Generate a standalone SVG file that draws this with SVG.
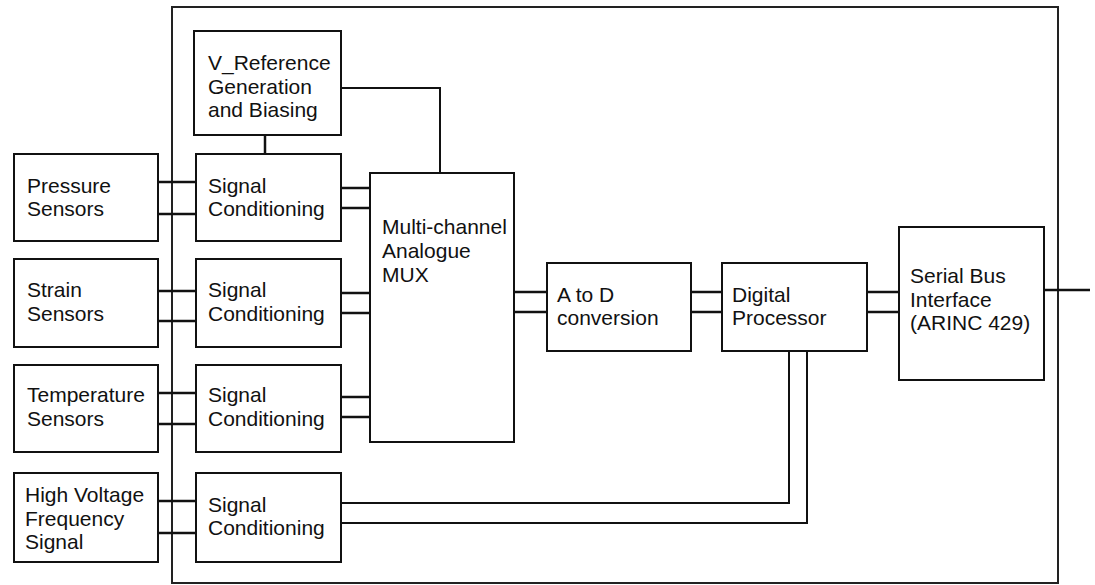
<svg xmlns="http://www.w3.org/2000/svg" width="1095" height="585" viewBox="0 0 1095 585">
<style>
.box{fill:#fff;stroke:#111;stroke-width:2}
.frame{fill:none;stroke:#222;stroke-width:2}
.ln{fill:none;stroke:#111;stroke-width:2.5}
.thin{fill:none;stroke:#111;stroke-width:2}
text{font-family:"Liberation Sans",Arial,sans-serif;font-size:21px;fill:#111}
</style>
<rect width="1095" height="585" fill="#fff"/>
<g id="frame"><rect class="frame" x="172" y="7" width="886" height="576"/></g>
<g id="connectors">
<path class="ln" d="M158 182H196M158 214H196"/>
<path class="ln" d="M158 291H196M158 321H196"/>
<path class="ln" d="M158 393H196M158 424H196"/>
<path class="ln" d="M158 501H196M158 533H196"/>
<path class="ln" d="M265 135V154"/>
<path class="thin" d="M341 88H440V173"/>
<path class="ln" d="M341 188H370M341 208H370"/>
<path class="ln" d="M341 293H370M341 313H370"/>
<path class="ln" d="M341 397H370M341 417H370"/>
<path class="ln" d="M514 292H547M514 312H547"/>
<path class="ln" d="M691 292H722M691 312H722"/>
<path class="ln" d="M867 292H899M867 312H899"/>
<path class="ln" d="M1044 290H1090"/>
<path class="thin" d="M341 503H789V351M341 523H807V351"/>
</g>
<g id="vref"><rect class="box" x="194" y="31" width="147" height="104"/>
<text x="208" y="70">V_Reference</text><text x="208" y="93.5">Generation</text><text x="208" y="117">and Biasing</text></g>
<g id="pressure"><rect class="box" x="14" y="154" width="144" height="87"/>
<text x="27" y="193">Pressure</text><text x="27" y="216">Sensors</text></g>
<g id="sc1"><rect class="box" x="196" y="154" width="145" height="87"/>
<text x="208" y="193">Signal</text><text x="208" y="216">Conditioning</text></g>
<g id="strain"><rect class="box" x="14" y="259" width="144" height="88"/>
<text x="27" y="297">Strain</text><text x="27" y="321">Sensors</text></g>
<g id="sc2"><rect class="box" x="196" y="259" width="145" height="88"/>
<text x="208" y="297">Signal</text><text x="208" y="321">Conditioning</text></g>
<g id="temp"><rect class="box" x="14" y="365" width="144" height="87"/>
<text x="27" y="402">Temperature</text><text x="27" y="426">Sensors</text></g>
<g id="sc3"><rect class="box" x="196" y="365" width="145" height="87"/>
<text x="208" y="402">Signal</text><text x="208" y="426">Conditioning</text></g>
<g id="hv"><rect class="box" x="14" y="473" width="144" height="89"/>
<text x="25" y="502">High Voltage</text><text x="25" y="526">Frequency</text><text x="25" y="549">Signal</text></g>
<g id="sc4"><rect class="box" x="196" y="473" width="145" height="89"/>
<text x="208" y="512">Signal</text><text x="208" y="535">Conditioning</text></g>
<g id="mux"><rect class="box" x="370" y="173" width="144" height="269"/>
<text x="382" y="234">Multi-channel</text><text x="382" y="258">Analogue</text><text x="382" y="282">MUX</text></g>
<g id="atod"><rect class="box" x="547" y="263" width="144" height="88"/>
<text x="557" y="302">A to D</text><text x="557" y="325">conversion</text></g>
<g id="dp"><rect class="box" x="722" y="263" width="145" height="88"/>
<text x="732" y="302">Digital</text><text x="732" y="325">Processor</text></g>
<g id="sbi"><rect class="box" x="899" y="227" width="145" height="153"/>
<text x="910" y="283">Serial Bus</text><text x="910" y="307">Interface</text><text x="910" y="330">(ARINC 429)</text></g>
</svg>
